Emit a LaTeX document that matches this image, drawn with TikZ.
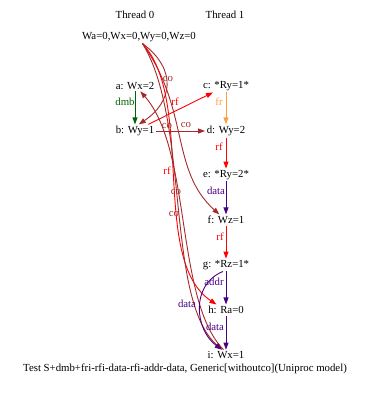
\documentclass[tikz,border=0pt]{standalone}
\usepackage{fontspec}
\setmainfont{Liberation Serif}
\usetikzlibrary{arrows.meta,calc}
\definecolor{cobrown}{HTML}{A52A2A}
\definecolor{rfred}{HTML}{FF0000}
\definecolor{dmbgreen}{HTML}{006400}
\definecolor{frorange}{HTML}{FFA040}
\definecolor{depindigo}{HTML}{4B0082}
\begin{document}
\begin{tikzpicture}[x=1pt,y=-1pt,
  font=\fontsize{10.8}{12}\selectfont,
  ev/.style={inner sep=1.5pt},
  arr/.style={-{Triangle[length=7pt,width=5pt]}, line width=0.9pt},
  lbl/.style={inner sep=0pt},
  co/.style={arr, draw=cobrown},
  rf/.style={arr, draw=rfred},
  dep/.style={arr, draw=depindigo}]
\useasboundingbox (0,0) rectangle (370,394);
% headers
\node[ev] (th0) at (135,15) {Thread 0};
\node[ev] (th1) at (225,15) {Thread 1};
\node[ev] (init) at (139,37) {Wa=0,Wx=0,Wy=0,Wz=0};
% events
\node[ev] (a) at (135,86) {a: Wx=2};
\node[ev] (b) at (135,131) {b: Wy=1};
\node[ev] (c) at (226,86) {c: *Ry=1*};
\node[ev] (d) at (226,131) {d: Wy=2};
\node[ev] (e) at (226,175) {e: *Ry=2*};
\node[ev] (f) at (226,220) {f: Wz=1};
\node[ev] (g) at (226,265) {g: *Rz=1*};
\node[ev] (h) at (226,310) {h: Ra=0};
\node[ev] (i) at (226,355) {i: Wx=1};
\node[ev] (cap) at (185,369) {Test S+dmb+fri-rfi-data-rfi-addr-data, Generic[withoutco](Uniproc model)};
% straight edges
\draw[arr, draw=dmbgreen] (a) -- (b);
\draw[arr, draw=frorange] (c) -- (d);
\draw[rf] (d) -- (e);
\draw[dep] (e) -- (f);
\draw[rf] (f) -- (g);
\draw[dep] (g) -- (h);
\draw[dep] (h) -- (i);
\draw[rf] (b) -- (c);
\draw[co] (b) -- (d);
% curved edges
\draw[co] (init.-62) .. controls (178,70) and (172,102) .. (b.60);
\draw[co] (init.-62) .. controls (190,110) and (170,170) .. (f.140);
\draw[rf] (init.-62) .. controls (195,100) and (150,260) .. (h.150);
\draw[co] (init.-62) .. controls (190,120) and (165,300) .. (i.125);
\draw[co] (i.115) .. controls (175,300) and (192,150) .. (a.-45);
\draw[dep] (g.-115) .. controls (190,285) and (195,330) .. (i.128);
% labels
\node[lbl, text=dmbgreen] (ldmb) at (125,102) {dmb};
\node[lbl, text=frorange] (lfr) at (219,102) {fr};
\node[lbl, text=rfred] (lrf1) at (219,147) {rf};
\node[lbl, text=depindigo] (ldata1) at (216,191) {data};
\node[lbl, text=rfred] (lrf2) at (220,237) {rf};
\node[lbl, text=depindigo] (laddr) at (214,282) {addr};
\node[lbl, text=depindigo] (ldata2) at (215,327) {data};
\node[lbl, text=depindigo] (ldata3) at (187,304) {data};
\node[lbl, text=cobrown] (lco1) at (168,79) {co};
\node[lbl, text=rfred] (lrf3) at (175,102) {rf};
\node[lbl, text=cobrown] (lco2) at (167,126) {co};
\node[lbl, text=cobrown] (lco3) at (186,125) {co};
\node[lbl, text=rfred] (lrf4) at (167,171) {rf};
\node[lbl, text=cobrown] (lco4) at (176,192) {co};
\node[lbl, text=cobrown] (lco5) at (174,214) {co};
\end{tikzpicture}
\end{document}
